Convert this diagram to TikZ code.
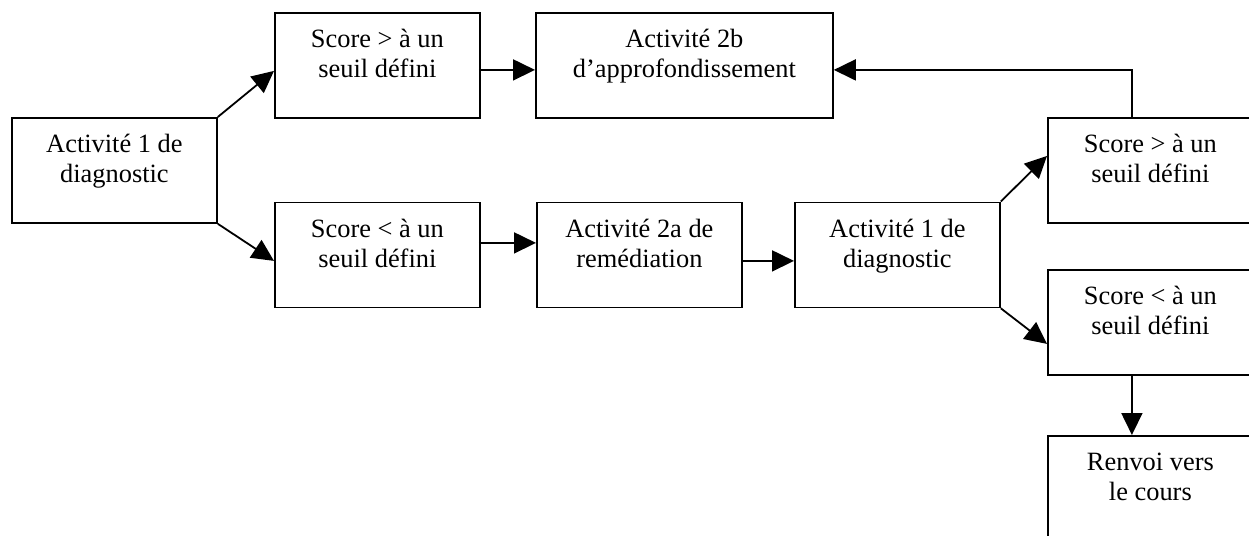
\documentclass[tikz,border=0pt]{standalone}
\usepackage{fontspec}
\setmainfont{Liberation Serif}
\usetikzlibrary{arrows.meta}
\newcommand{\boxtxt}[2]{\parbox[c][52.5pt][t]{100pt}{\centering\fontsize{13.2pt}{15pt}\selectfont\rule{0pt}{17.5pt}#1\\#2}}
\begin{document}
\begin{tikzpicture}[x=0.5pt,y=-0.5pt,
  stepbox/.style={draw, line width=0.9pt, inner sep=0pt, minimum width=102.5pt, minimum height=52.5pt, anchor=north west},
  widebox/.style={stepbox, minimum width=148.5pt},
  conn/.style={line width=0.9pt, -{Triangle[length=11pt,width=10.5pt]}}]
\useasboundingbox (0,0) rectangle (1249,536);
\clip (0,0) rectangle (1249,536);
\node[stepbox] (A) at (11,117) {\boxtxt{Activité 1 de}{diagnostic}};
\node[stepbox] (B) at (274,12) {\boxtxt{Score > à un}{seuil défini}};
\node[widebox] (C) at (535,12) {\parbox[c][52.5pt][t]{146pt}{\centering\fontsize{13.2pt}{15pt}\selectfont\rule{0pt}{17.5pt}Activité 2b\\d’approfondissement}};
\node[stepbox] (D) at (274,201.5) {\boxtxt{Score < à un}{seuil défini}};
\node[stepbox] (E) at (536,201.5) {\boxtxt{Activité 2a de}{remédiation}};
\node[stepbox] (F) at (794,201.5) {\boxtxt{Activité 1 de}{diagnostic}};
\node[stepbox] (G) at (1047,117) {\boxtxt{Score > à un}{seuil défini}};
\node[stepbox] (H) at (1047,269) {\boxtxt{Score < à un}{seuil défini}};
\node[stepbox] (I) at (1047,435) {\boxtxt{Renvoi vers}{le cours}};
\draw[conn] (A.north east) -- ([yshift=-2.75pt]B.west);
\draw[conn] (A.south east) -- ([yshift=-3pt]D.west);
\draw[conn] ([yshift=-2.25pt,xshift=-1pt]B.east) -- ([yshift=-2.25pt]C.west);
\draw[conn] ([yshift=6pt,xshift=-1pt]D.east) -- ([yshift=6pt]E.west);
\draw[conn] ([yshift=-3pt]E.east) -- ([yshift=-3pt]F.west);
\draw[conn] (F.north east) -- ([yshift=7.25pt]G.west);
\draw[conn] (F.south east) -- ([yshift=-10.75pt]H.west);
\draw[conn] ([xshift=-9.25pt]G.north) |- ([yshift=-2.25pt]C.east);
\draw[conn] ([xshift=-9.25pt]H.south) -- ([xshift=-9.25pt]I.north);
\end{tikzpicture}
\end{document}
